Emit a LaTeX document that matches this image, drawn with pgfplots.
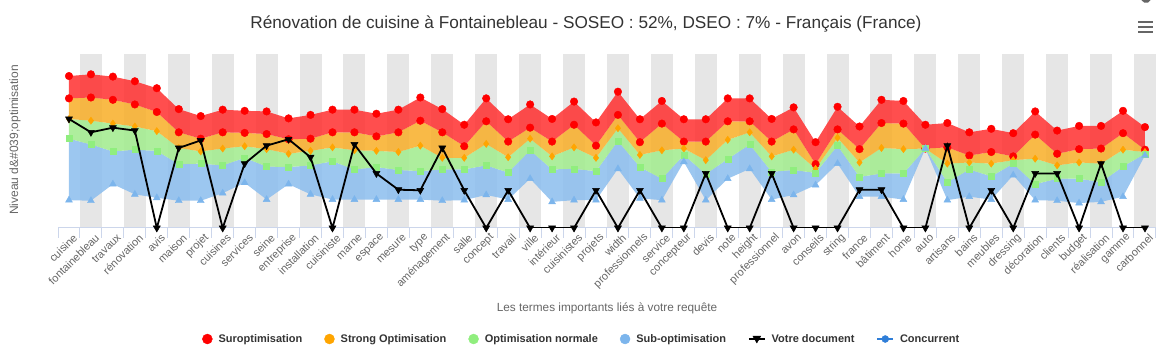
\documentclass[border=0pt]{standalone}
\usepackage{fontspec}
\setmainfont{Liberation Sans}
\usepackage{pgfplots}
\usepackage{pgfplotstable}
\pgfplotsset{compat=1.18}
\usepgfplotslibrary{fillbetween}
\definecolor{stripe}{HTML}{E6E6E6}
\definecolor{gridc}{HTML}{E6E6E6}
\definecolor{axisc}{HTML}{CCD6EB}
\definecolor{txt}{HTML}{333333}
\definecolor{lab}{HTML}{666666}
\definecolor{cred}{HTML}{FF0000}
\definecolor{corange}{HTML}{FFA500}
\definecolor{cgreen}{HTML}{90EE7E}
\definecolor{cblue}{HTML}{7CB5EC}
\definecolor{conc}{HTML}{2F7ED8}
\definecolor{redband}{HTML}{FF3535}
\definecolor{orangeband}{HTML}{F8B02E}
\definecolor{greenband}{HTML}{A3EC90}
\definecolor{blueband}{HTML}{8EBFEE}
\pgfplotstableread{
x rt rl o g b v
0 2.62 2.235 1.88 1.54 0.48 1.88
1 2.65 2.25 1.85 1.44 0.47 1.65
2 2.61 2.21 1.80 1.32 0.755 1.73
3 2.53 2.13 1.75 1.35 0.58 1.68
4 2.41 2.0 1.67 1.33 0.52 0
5 2.05 1.65 1.38 1.10 0.47 1.38
6 1.93 1.54 1.32 1.11 0.47 1.51
7 2.04 1.65 1.37 1.08 0.60 0
8 2.02 1.64 1.41 1.21 0.78 1.11
9 2.01 1.62 1.36 1.06 0.49 1.42
10 1.89 1.53 1.28 1.05 0.755 1.53
11 1.95 1.54 1.33 1.08 0.58 1.22
12 2.04 1.65 1.39 1.15 0.49 0
13 2.04 1.65 1.34 1.01 0.49 1.44
14 1.97 1.58 1.33 1.05 0.49 0.94
15 2.04 1.65 1.31 1.0 0.49 0.66
16 2.25 1.85 1.42 0.98 0.49 0.65
17 2.05 1.65 1.21 1.01 0.47 1.38
18 1.78 1.41 1.21 1.01 0.48 0.65
19 2.235 1.84 1.45 1.08 0.57 0
20 1.875 1.49 1.22 0.955 0.49 0.65
21 2.13 1.73 1.54 1.34 0.85 0
22 1.88 1.49 1.235 1.01 0.45 0
23 2.18 1.78 1.39 1.02 0.48 0
24 1.82 1.42 1.21 0.98 0.48 0.65
25 2.35 1.95 1.72 1.50 1.02 0
26 1.875 1.48 1.26 1.05 0.51 0.65
27 2.19 1.80 1.34 0.85 0.48 0
28 1.875 1.49 1.37 1.26 1.14 0
29 1.875 1.49 1.17 0.93 0.48 0.94
30 2.235 1.84 1.52 1.19 0.85 0
31 2.235 1.84 1.65 1.44 1.02 0
32 1.88 1.49 1.235 0.97 0.49 0.94
33 2.08 1.70 1.35 1.0 0.57 0
34 1.48 1.10 1.02 0.95 0.74 0
35 2.09 1.70 1.555 1.42 1.11 0
36 1.75 1.36 1.13 0.88 0.54 0.66
37 2.21 1.81 1.38 0.94 0.54 0.66
38 2.19 1.80 1.36 0.94 0.49 0
39 1.78 1.37 1.37 1.37 1.37 0
40 1.81 1.39 1.11 0.79 0.48 1.42
41 1.65 1.25 1.13 1.01 0.54 0
42 1.71 1.31 1.11 0.89 0.49 0.65
43 1.635 1.235 1.17 1.11 0.91 0
44 2.01 1.61 1.195 0.755 0.48 0.94
45 1.68 1.28 1.08 0.85 0.47 0.94
46 1.76 1.36 1.13 0.85 0.43 0
47 1.76 1.37 1.11 0.79 0.45 1.11
48 2.02 1.635 1.35 1.06 0.54 0
49 1.74 1.35 1.31 1.28 1.25 0
}\data
\begin{document}
\begin{tikzpicture}[x=1pt,y=1pt]
\path (0,0) rectangle (1171,359);
\begin{axis}[
  set layers,
  at={(58pt,131pt)}, anchor=south west,
  scale only axis, width=1098pt, height=174pt,
  xmin=-0.5, xmax=49.5, ymin=0, ymax=3,
  axis x line=bottom, axis y line=none,
  x axis line style={draw=axisc, line width=1pt, -},
  xtick={0,...,49},
  xticklabels={cuisine,fontainebleau,travaux,rénovation,avis,maison,projet,cuisines,services,seine,entreprise,installation,cuisiniste,marne,espace,mesure,type,aménagement,salle,concept,travail,ville,intérieur,cuisinistes,projets,width,professionnels,service,concepteur,devis,note,height,professionnel,avon,conseils,string,france,bâtiment,home,auto,artisans,bains,meubles,dressing,décoration,clients,budget,réalisation,gamme,carbonnel},
  major tick length=0pt,
  minor xtick={-0.5,0.5,...,49.5},
  minor tick length=10pt,
  tick align=outside,
  every minor tick/.style={draw=axisc, line width=1pt},
  x tick label style={rotate=45, anchor=east, font=\fontsize{11}{13}\selectfont, text=lab, inner sep=1pt, yshift=-10pt, xshift=0pt},
  ytick={1,2,3}, yticklabels={}, ymajorgrids,
  grid style={draw=gridc, line width=1pt},
  clip mode=individual,
  legend style={at={(0.477,-0.638)}, anchor=center, draw=none, fill=none,
    legend columns=6, font=\fontsize{11}{13}\selectfont\bfseries, text=txt,
    /tikz/every even column/.append style={column sep=20pt},
    /tikz/every odd column/.append style={column sep=4pt}},
  legend cell align=left,
]
\pgfonlayer{axis background}
\pgfplotsinvokeforeach{1,3,...,49}{
  \fill[stripe] (axis cs:#1-0.5,0) rectangle (axis cs:#1+0.5,3);
}
\endpgfonlayer
\addplot[draw=none, name path=RT, forget plot] table[x=x,y=rt]{\data};
\addplot[draw=none, name path=RL, forget plot] table[x=x,y=rl]{\data};
\addplot[draw=none, name path=O, forget plot] table[x=x,y=o]{\data};
\addplot[draw=none, name path=G, forget plot] table[x=x,y=g]{\data};
\addplot[draw=none, name path=B, forget plot] table[x=x,y=b]{\data};
\addplot[fill=blueband, fill opacity=0.88, forget plot] fill between[of=G and B];
\addplot[fill=greenband, fill opacity=0.88, forget plot] fill between[of=O and G];
\addplot[fill=orangeband, fill opacity=0.88, forget plot] fill between[of=RL and O];
\addplot[fill=redband, fill opacity=0.88, forget plot] fill between[of=RT and RL];
\addplot[only marks, mark=*, mark size=3.8pt, color=cred, forget plot] table[x=x,y=rt]{\data};
\addplot[only marks, mark=*, mark size=3.8pt, color=cred, forget plot] table[x=x,y=rl]{\data};
\addplot[only marks, mark=diamond*, mark size=3.6pt, color=corange, forget plot] table[x=x,y=o]{\data};
\addplot[only marks, mark=square*, mark size=3pt, color=cgreen, forget plot] table[x=x,y=g]{\data};
\addplot[only marks, mark=triangle*, mark size=4pt, color=cblue, forget plot] table[x=x,y=b]{\data};
\addplot[black, line width=1.8pt, mark=triangle*, mark size=4pt, mark options={rotate=180, line width=0.5pt}, forget plot] table[x=x,y=v]{\data};
\addlegendimage{legend image code/.code={\fill[cred] (0pt,0pt) circle (5pt);}}
\addlegendimage{legend image code/.code={\fill[corange] (0pt,0pt) circle (5pt);}}
\addlegendimage{legend image code/.code={\fill[cgreen] (0pt,0pt) circle (5pt);}}
\addlegendimage{legend image code/.code={\fill[cblue] (0pt,0pt) circle (5pt);}}
\addlegendimage{legend image code/.code={\draw[black, line width=1.5pt] (-8pt,0) -- (8pt,0); \fill[black] (-4pt,3pt) -- (4pt,3pt) -- (0,-4pt) -- cycle;}}
\addlegendimage{legend image code/.code={\draw[conc, line width=1.5pt] (-8pt,0) -- (8pt,0); \fill[conc] (0,0) circle (3.5pt);}}
\legend{Suroptimisation,Strong Optimisation,Optimisation normale,Sub-optimisation,Votre document,Concurrent}
\end{axis}
\node[text=txt, font=\fontsize{17.2}{20}\selectfont] at (586,335) {Rénovation de cuisine à Fontainebleau - SOSEO : 52\%, DSEO : 7\% - Français (France)};
\node[text=lab, font=\fontsize{12}{14}\selectfont, rotate=90] at (15,219) {Niveau d\&\#039;optimisation};
\node[text=lab, font=\fontsize{11.8}{13}\selectfont] at (607,51) {Les termes importants liés à votre requête};
\foreach \yy in {327,332,337} \draw[lab, line width=2pt] (1138,\yy) -- (1153,\yy);
\fill[lab] (1141.42,359) arc (203.6:336.4:5) -- cycle;
\end{tikzpicture}
\end{document}
